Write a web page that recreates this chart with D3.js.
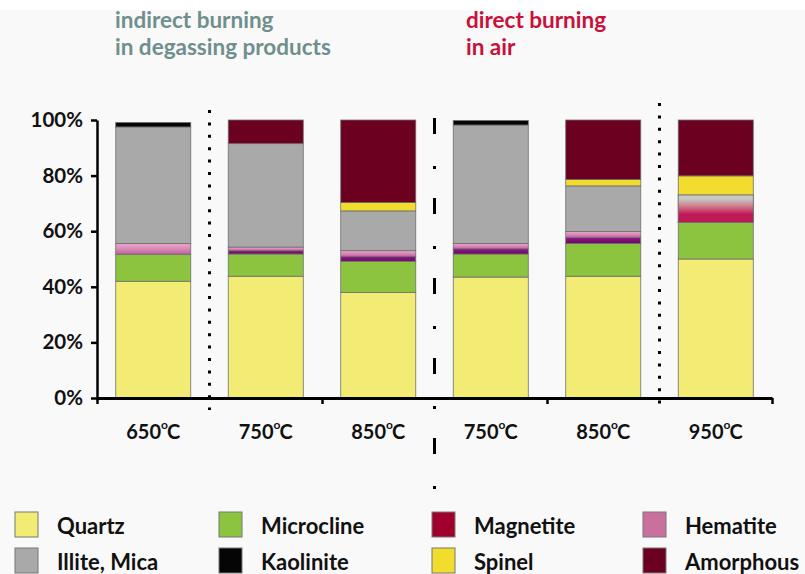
<!DOCTYPE html>
<html>
<head>
<meta charset="utf-8">
<script src="https://cdn.jsdelivr.net/npm/d3@7"></script>
<style>
  body { margin: 0; background: #f9f9f9; }
  svg text { font-family: Lato, "Open Sans", sans-serif; font-weight: bold; }
</style>
</head>
<body>
<div id="chart"></div>
<script>
// categories (temperatures), left three indirect, right three direct
const temps = ["650", "750", "850", "750", "850", "950"];
const minerals = ["Quartz", "Microcline", "Magnetite", "Hematite",
                  "Illite, Mica", "Kaolinite", "Spinel", "Amorphous"];

// percentages, one array per mineral
const quartz     = [42.0, 43.8, 38.0, 43.5, 43.8, 50.0];
const microcline = [ 9.7,  8.0, 11.2,  8.3, 11.8, 13.2];
const magnetite  = [ 0.0,  1.2,  1.7,  1.9,  2.1,  3.0];
const hematite   = [ 3.9,  1.3,  2.1,  1.9,  2.2,  3.5];
const illite     = [41.9, 37.2, 14.3, 42.6, 16.4,  3.3];
const kaolinite  = [ 1.6,  0.0,  0.0,  1.6,  0.0,  0.0];
const spinel     = [ 0.0,  0.0,  3.0,  0.0,  2.3,  6.9];
const amorphous  = [ 0.0,  8.5, 29.7,  0.0, 21.4, 20.1];

const yTicks = [0, 20, 40, 60, 80, 100];

const seriesValues = [quartz, microcline, magnetite, hematite, illite, kaolinite, spinel, amorphous];
const legendColors = ["#f3ec74", "#8cc43f", "#a2002c", "#c9709f", "#a9a9a9", "#050505", "#f2dd2c", "#6c0021"];

const W = 805, H = 574;
const margin = {left: 97, right: 33, top: 120, bottom: 176};

const svg = d3.select("#chart").append("svg")
    .attr("width", W)
    .attr("height", H);

svg.append("rect")
    .attr("width", W).attr("height", 10)
    .attr("fill", "#ffffff");

const x0 = margin.left, x1 = W - margin.right;
const yScale = d3.scaleLinear()
    .domain([0, 100])
    .range([H - margin.bottom, margin.top]);

const xBand = d3.scaleBand()
    .domain(d3.range(temps.length))
    .range([x0, x1])
    .paddingInner(0.333)
    .paddingOuter(0.1665);

const xLin = d3.scaleLinear()
    .domain([0, temps.length])
    .range([x0, x1]);

// gradients for the thin layers
const defs = svg.append("defs");
const gHem = defs.append("linearGradient").attr("id", "gHem")
    .attr("x1", 0).attr("y1", 0).attr("x2", 0).attr("y2", 1);
gHem.append("stop").attr("offset", 0).attr("stop-color", "#eaa6c8");
gHem.append("stop").attr("offset", 0.5).attr("stop-color", "#d98ab8");
gHem.append("stop").attr("offset", 1).attr("stop-color", "#bd5f9c");
const gMag = defs.append("linearGradient").attr("id", "gMag")
    .attr("x1", 0).attr("y1", 0).attr("x2", 0).attr("y2", 1);
gMag.append("stop").attr("offset", 0).attr("stop-color", "#951a8a");
gMag.append("stop").attr("offset", 1).attr("stop-color", "#6a0760");

// stack it
const rows = temps.map((t, i) => {
  const r = {idx: i};
  minerals.forEach((m, k) => r[m] = seriesValues[k][i]);
  return r;
});
const stacked = d3.stack().keys(minerals)(rows);

// the 950 bar has a blurred crimson -> grey zone
const mixBar = 5;
const mixLo = stacked[2][mixBar][0], mixHi = stacked[4][mixBar][1];
const gMix = defs.append("linearGradient").attr("id", "gMix")
    .attr("gradientUnits", "userSpaceOnUse")
    .attr("x1", 0).attr("x2", 0)
    .attr("y1", yScale(mixLo)).attr("y2", yScale(mixHi));
gMix.append("stop").attr("offset", 0).attr("stop-color", "#bd1455");
gMix.append("stop").attr("offset", 0.3).attr("stop-color", "#c11b5a");
gMix.append("stop").attr("offset", 0.62).attr("stop-color", "#cf8690");
gMix.append("stop").attr("offset", 0.85).attr("stop-color", "#c8c4c4");
gMix.append("stop").attr("offset", 1).attr("stop-color", "#cbcbcb");

function fillFor(k, i) {
  if (i === mixBar && (k === 2 || k === 3 || k === 4)) return "url(#gMix)";
  if (k === 2) return "url(#gMag)";
  if (k === 3) return "url(#gHem)";
  return legendColors[k];
}

const plot = svg.append("g").attr("id", "bars");
stacked.forEach((layer, k) => {
  plot.selectAll("rect.s" + k)
    .data(layer.filter(d => d[1] - d[0] > 0))
    .enter().append("rect")
      .attr("class", "s" + k)
      .attr("x", d => xBand(d.data.idx))
      .attr("width", xBand.bandwidth())
      .attr("y", d => yScale(d[1]))
      .attr("height", d => yScale(d[0]) - yScale(d[1]))
      .attr("fill", d => fillFor(k, d.data.idx))
      .attr("stroke", "#6f6f6f")
      .attr("stroke-width", 0.8);
});

// blurred zone of the 950 bar drawn once over its three layers
plot.append("rect")
    .attr("x", xBand(mixBar))
    .attr("width", xBand.bandwidth())
    .attr("y", yScale(mixHi))
    .attr("height", yScale(mixLo) - yScale(mixHi))
    .attr("fill", "url(#gMix)")
    .attr("stroke", "#6f6f6f")
    .attr("stroke-width", 0.8);

// separators between groups
const sepY = [
  {pos: 1, y0: 110, y1: 410, style: "dot"},
  {pos: 3, y0: 118, y1: 492, style: "dash"},
  {pos: 5, y0: 103, y1: 404, style: "dot"}
];
sepY.forEach(s => {
  svg.append("line")
    .attr("x1", xLin(s.pos)).attr("x2", xLin(s.pos))
    .attr("y1", s.y0).attr("y2", s.y1)
    .attr("stroke", "#000")
    .attr("stroke-width", 3)
    .attr("stroke-dasharray", s.style === "dot" ? "3,9.4" : "16,32,3,29");
});

// y axis
const yAxis = d3.axisLeft(yScale)
    .tickValues(yTicks)
    .tickFormat(d => d + "%")
    .tickSize(6)
    .tickSizeOuter(0)
    .tickPadding(8);
const gy = svg.append("g")
    .attr("transform", `translate(${x0},0)`)
    .call(yAxis);
gy.select(".domain").attr("stroke", "#000").attr("stroke-width", 2.5);
gy.selectAll(".tick line").attr("stroke", "#000").attr("stroke-width", 2.5);
gy.selectAll(".tick text")
    .attr("font-size", 20.5)
    .attr("fill", "#111")
    .style("font-family", "Lato, sans-serif")
    .style("font-weight", "bold");

// x axis: ticks only every second boundary
const xAxis = d3.axisBottom(xLin)
    .tickValues([0, 2, 4, 6])
    .tickFormat("")
    .tickSize(6)
    .tickSizeOuter(0);
const gx = svg.append("g")
    .attr("transform", `translate(0,${yScale(0)})`)
    .call(xAxis);
gx.select(".domain").attr("stroke", "#000").attr("stroke-width", 2.8);
gx.selectAll(".tick line").attr("stroke", "#000").attr("stroke-width", 2.5);

// category labels with degree sign
temps.forEach((t, i) => {
  const tx = svg.append("text")
      .attr("x", xBand(i) + xBand.bandwidth() / 2)
      .attr("y", 439)
      .attr("text-anchor", "middle")
      .attr("font-size", 20)
      .attr("fill", "#111");
  tx.append("tspan").text(t);
  tx.append("tspan").attr("font-size", 12).attr("dy", -10).text("o");
  tx.append("tspan").attr("dy", 10).attr("dx", -1).text("C");
});

// group titles
const titles = [
  {x: 115, lines: ["indirect burning", "in degassing products"], color: "#6f8f8d"},
  {x: 466, lines: ["direct burning", "in air"], color: "#c8103c"}
];
titles.forEach(t => {
  t.lines.forEach((ln, j) => {
    svg.append("text")
      .attr("x", t.x)
      .attr("y", 28 + j * 27)
      .attr("font-size", 22.5)
      .attr("fill", t.color)
      .text(ln);
  });
});

// legend, 4 columns x 2 rows
const legX = [15, 219, 432, 643];
const legY = [512, 548];
const legend = svg.append("g").attr("id", "legend");
minerals.forEach((m, k) => {
  const col = k % 4, row = Math.floor(k / 4);
  legend.append("rect")
    .attr("x", legX[col]).attr("y", legY[row])
    .attr("width", 23).attr("height", 25)
    .attr("fill", legendColors[k])
    .attr("stroke", "#777")
    .attr("stroke-width", 1);
  legend.append("text")
    .attr("x", legX[col] + 42)
    .attr("y", legY[row] + 22)
    .attr("font-size", 22)
    .attr("fill", "#111")
    .text(m);
});
</script>
</body>
</html>
